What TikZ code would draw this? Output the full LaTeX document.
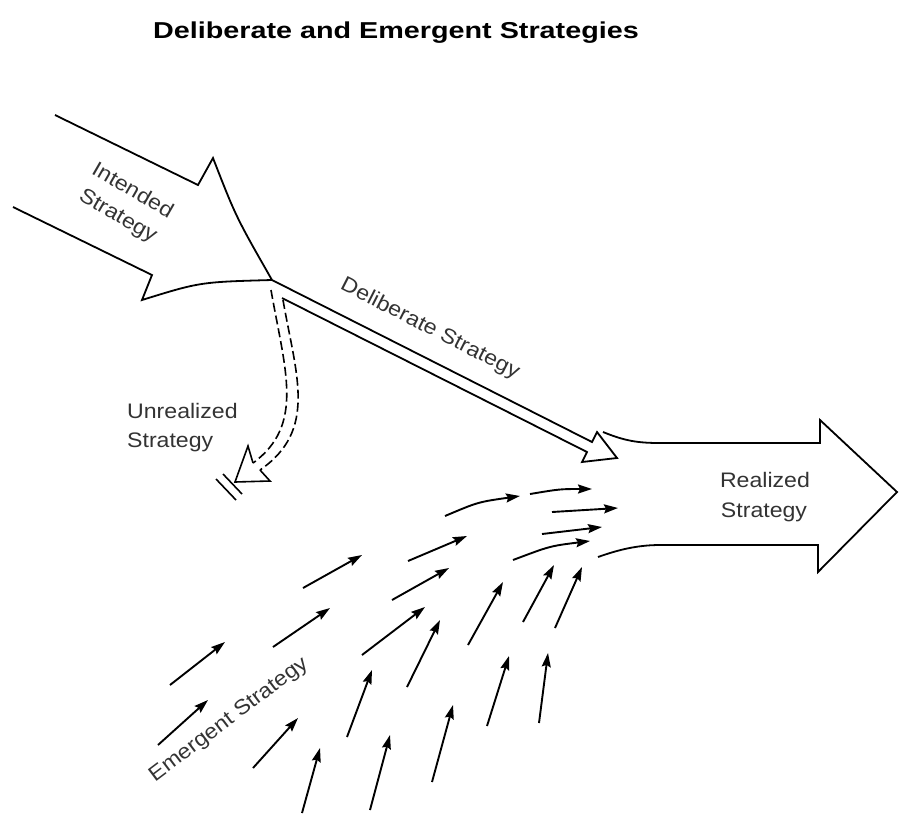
\documentclass[tikz,border=0pt]{standalone}
\usepackage{fontspec}
\setmainfont{Liberation Sans}
\newfontfamily\titlefont[FakeStretch=1.25]{Liberation Sans Bold}
\newfontfamily\lblfont[FakeStretch=1.1]{Liberation Sans}
\usetikzlibrary{arrows.meta}
\begin{document}
\begin{tikzpicture}[x=1pt,y=-1pt,
  outline/.style={line width=1.8pt, line join=miter},
  dashline/.style={line width=1.6pt, dash pattern=on 9pt off 4pt},
  em/.style={line width=1.9pt, -{Stealth[length=14pt,width=9pt,inset=2pt]}},
  lbl/.style={font=\lblfont\fontsize{21}{29}\selectfont, text=black!80, align=center, inner sep=0pt}]
\useasboundingbox (0,0) rectangle (899,815);

% title
\node[font=\titlefont\fontsize{23}{26}\selectfont, anchor=base] (title) at (396,38) {Deliberate and Emergent Strategies};

% intended strategy arrow
\coordinate (itip) at (272,280);
\draw[outline] (55,115) -- (198,185) -- (213,158) .. controls (236,217) .. (itip);
\draw[outline] (13,207) -- (152,275) -- (142,300) .. controls (200,282) .. (itip);
\node[lbl, rotate=-30] (int) at (125,204) {Intended\\Strategy};

% deliberate strategy arrow
\coordinate (dlow) at (282,298);
\draw[outline] (itip) -- (592,442) -- (597,432) -- (617,458) -- (582,462) -- (587,452) -- (dlow);
\node[lbl, rotate=-27] (del) at (430,329) {Deliberate Strategy};

% realized strategy arrow
\draw[outline] (603,432) .. controls (625,441) and (638,443) .. (660,443) -- (820,443) -- (820,420)
  -- (897,492) -- (818,572) -- (818,545) -- (660,545) .. controls (635,545) and (615,551) .. (598,557);
\node[lbl, anchor=base] (real1) at (765,487) {Realized};
\node[lbl, anchor=base] (real2) at (764,517) {Strategy};

% unrealized strategy (dashed double line)
\coordinate (uleft) at (253,463);
\coordinate (uright) at (260,470);
\draw[dashline] (271,290) .. controls (285,370) and (305,425) .. (uleft);
\draw[dashline] (283,300) .. controls (296,375) and (318,430) .. (uright);
\draw[line width=1.6pt, line join=miter] (uleft) -- (248,446) -- (235,482) -- (270,481) -- (uright);
\draw[line width=1.6pt] (216,479) -- (236,500);
\draw[line width=1.6pt] (223,474) -- (242,494);
\node[lbl, anchor=base west] (unr1) at (127,418) {Unrealized};
\node[lbl, anchor=base west] (unr2) at (127,447) {Strategy};

% emergent strategy arrows
\draw[em] (530,494) .. controls (560,489) .. (592,489);
\draw[em] (445,516) .. controls (478,502) .. (520,496);
\draw[em] (513,560) .. controls (550,546) .. (590,541);
\foreach \a/\b/\c/\d in {552/512/618/508, 542/534/602/527, 408/561/467/536, 303/588/362/555,
  392/600/449/568, 273/647/330/608, 362/655/425/607, 170/685/225/642, 158/745/208/700,
  253/768/298/718, 302/813/320/748, 347/737/372/670, 407/687/440/620, 468/645/503/582,
  523/622/554/565, 555/628/582/567, 370/810/390/735, 432/782/453/705, 487/726/509/656,
  539/723/548/653}
  \draw[em] (\a,\b) -- (\c,\d);
\node[lbl, rotate=37] (emg) at (229,720) {Emergent Strategy};
\end{tikzpicture}
\end{document}
